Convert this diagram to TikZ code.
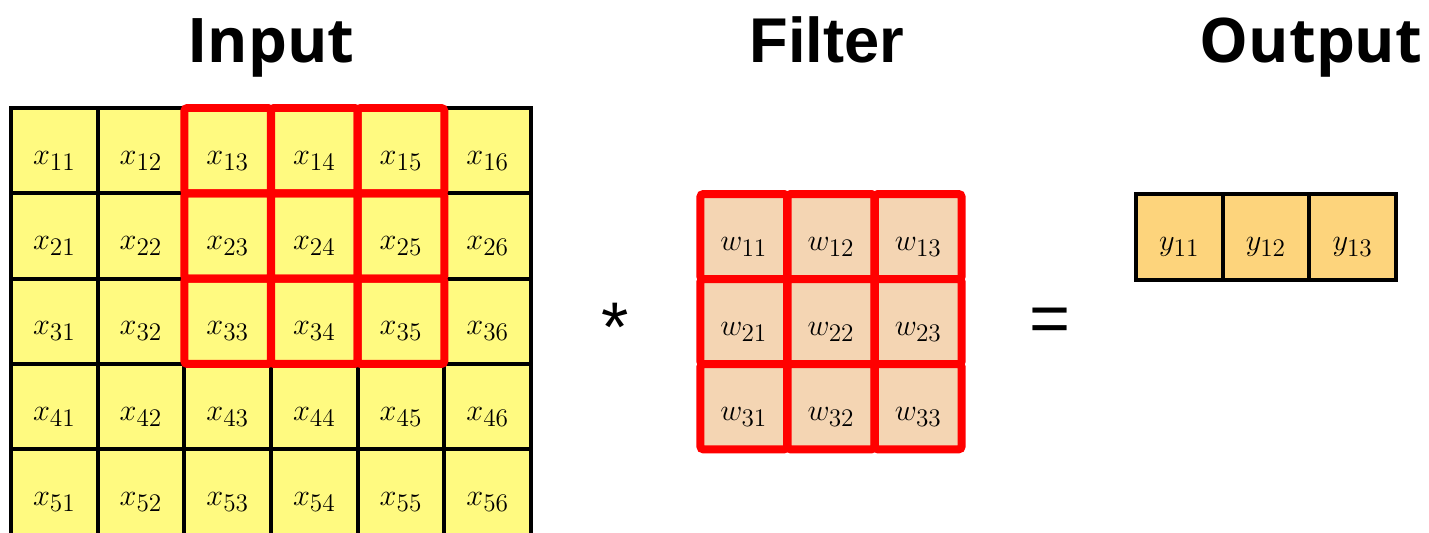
\documentclass[tikz,border=0pt]{standalone}
\usepackage{fontspec}
\setsansfont{Liberation Sans}
\newfontfamily\headfont{Open Sans}
\usetikzlibrary{positioning}

\definecolor{inyellow}{HTML}{FFFA80}
\definecolor{filtpeach}{HTML}{F4D5B3}
\definecolor{outgold}{HTML}{FDD47C}
\definecolor{winred}{HTML}{FF0000}

\begin{document}
\begin{tikzpicture}[
      x=0.02cm, y=-0.02cm,
      node distance=0cm,
      title/.style={inner sep=0pt,anchor=base,font=\bfseries},
      cell/.style={inner sep=0pt,outer sep=0pt,minimum width=1.733cm,minimum height=1.707cm,
                   text height=0.62cm,text depth=0.08cm,font=\fontsize{19}{19}\selectfont},
      xcell/.style={cell,draw=black,line width=0.08cm,fill=inyellow},
      wcell/.style={cell,draw=winred,line width=0.16cm,fill=filtpeach,rounded corners=0.06cm},
      ycell/.style={cell,draw=black,line width=0.08cm,fill=outgold},
      win/.style={draw=winred,line width=0.16cm,rounded corners=0.06cm},
      op/.style={inner sep=0pt,anchor=base,font=\sffamily\fontsize{40}{40}\selectfont},
    ]
      \useasboundingbox (0,0) rectangle (1429,533);

      % headings
      \node[title] (tin)   at (271,63)  {\headfont\fontsize{35}{35}\selectfont Input};
      \node[title] (tfilt) at (827,63)  {\sffamily\fontsize{36}{36}\selectfont Filter};
      \node[title] (tout)  at (1311,63) {\headfont\fontsize{35}{35}\selectfont Output};

      % input matrix 5 x 6
      \foreach \r in {1,...,5}
        \foreach \c in {1,...,6}
          \node[xcell] (x\r\c) at ({54.33+86.67*(\c-1)},{150.67+85.33*(\r-1)}) {$x_{\r\c}$};

      % window under the filter
      \foreach \r in {1,2,3}
        \foreach \c in {3,4,5}
          \draw[win] (x\r\c.north west) rectangle (x\r\c.south east);

      % filter 3 x 3
      \foreach \r in {1,2,3}
        \foreach \c in {1,2,3}
          \node[wcell] (w\r\c) at ({743.7+87.3*(\c-1)},{236.7+85*(\r-1)}) {$w_{\r\c}$};

      % output row
      \node[ycell] (y11) at (1179.3,237) {$y_{11}$};
      \node[ycell,right=of y11] (y12) {$y_{12}$};
      \node[ycell,right=of y12] (y13) {$y_{13}$};

      \node[op] (star) at (615,352) {*};
      \node[op] (eq)   at (1050,342) {=};
    \end{tikzpicture}
\end{document}
